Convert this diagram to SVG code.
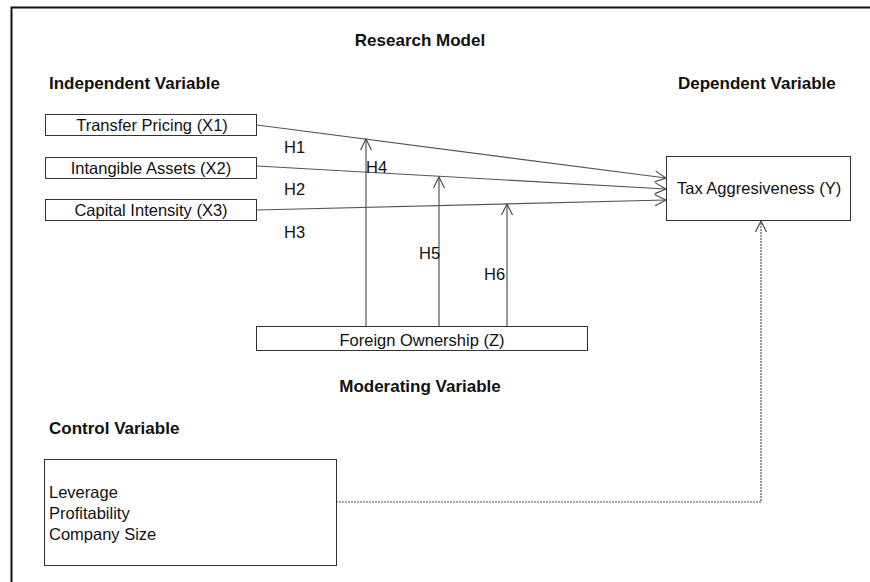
<svg xmlns="http://www.w3.org/2000/svg" width="870" height="582" viewBox="0 0 870 582">
<style>
text{font-family:"Liberation Sans",Arial,sans-serif;font-size:16.5px;fill:#111}
.b{font-weight:bold;font-size:17px}
.box{fill:#fff;stroke:#333;stroke-width:1}
.ln{stroke:#555;stroke-width:1.2;fill:none}
.ds{stroke:#555;stroke-width:1.2;fill:none;stroke-dasharray:2,1}
</style>
<defs>
<marker id="ah" markerWidth="14" markerHeight="14" refX="12" refY="7" orient="auto" markerUnits="userSpaceOnUse">
<path d="M1,1.5 L12,7 L1,12.5" fill="none" stroke="#444" stroke-width="1.1"/>
</marker>
</defs>
<rect width="870" height="582" fill="#fff"/>
<path d="M11.5,582 V7.5 H870" fill="none" stroke="#111" stroke-width="2"/>
<text class="b" x="420" y="46" text-anchor="middle">Research Model</text>
<text class="b" x="49" y="89">Independent Variable</text>
<text class="b" x="678" y="89">Dependent Variable</text>
<text class="b" x="420" y="392" text-anchor="middle">Moderating Variable</text>
<text class="b" x="49" y="434">Control Variable</text>
<g id="connectors">
<line class="ln" x1="257" y1="125" x2="666" y2="178" marker-end="url(#ah)"/>
<line class="ln" x1="257" y1="166" x2="666" y2="189" marker-end="url(#ah)"/>
<line class="ln" x1="257" y1="210" x2="666" y2="200" marker-end="url(#ah)"/>
<line class="ln" x1="366" y1="326" x2="366" y2="139" marker-end="url(#ah)"/>
<line class="ln" x1="439" y1="326" x2="439" y2="177" marker-end="url(#ah)"/>
<line class="ln" x1="507" y1="326" x2="507" y2="204" marker-end="url(#ah)"/>
<path class="ds" d="M336,502 H761 V221" marker-end="url(#ah)"/>
<text x="284" y="153">H1</text>
<text x="284" y="195">H2</text>
<text x="284" y="238">H3</text>
<text x="366" y="173">H4</text>
<text x="419" y="259">H5</text>
<text x="484" y="280">H6</text>
</g>
<g id="x1"><rect class="box" x="45.5" y="114.5" width="211" height="21"/><text x="152" y="131" text-anchor="middle">Transfer Pricing (X1)</text></g>
<g id="x2"><rect class="box" x="45.5" y="157.5" width="211" height="21"/><text x="151" y="174" text-anchor="middle">Intangible Assets (X2)</text></g>
<g id="x3"><rect class="box" x="45.5" y="199.5" width="211" height="21"/><text x="151" y="216" text-anchor="middle">Capital Intensity (X3)</text></g>
<g id="y"><rect class="box" x="666.5" y="156.5" width="184" height="64"/><text x="677" y="194">Tax Aggresiveness (Y)</text></g>
<g id="z"><rect class="box" x="256.5" y="326.5" width="331" height="24"/><text x="422" y="346" text-anchor="middle">Foreign Ownership (Z)</text></g>
<g id="control"><rect class="box" x="44.5" y="459.5" width="292" height="106"/>
<text x="49" y="498">Leverage</text><text x="49" y="519">Profitability</text><text x="49" y="540">Company Size</text></g>
</svg>
